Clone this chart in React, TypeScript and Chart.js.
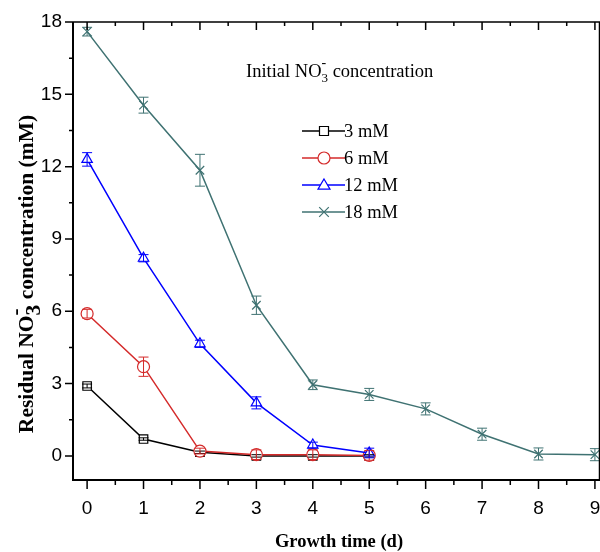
import React, { useEffect, useRef } from "react";
import { Chart, registerables } from "chart.js";

Chart.register(...registerables);

const days = [0, 1, 2, 3, 4, 5, 6, 7, 8, 9];
const xTicks = [0, 1, 2, 3, 4, 5, 6, 7, 8, 9];
const yTicks = [0, 3, 6, 9, 12, 15, 18];

const seriesNames = ["3 mM", "6 mM", "12 mM", "18 mM"];
const seriesColors = ["#000000", "#d42a2a", "#0000ff", "#3f7272"];
const seriesMarkers = ["rect", "circle", "triangle", "crossRot"];

const mM3 = [2.9, 0.7, 0.15, 0.0, 0.0, 0.0];
const mM6 = [5.9, 3.7, 0.2, 0.05, 0.05, 0.02];
const mM12 = [12.3, 8.2, 4.65, 2.2, 0.45, 0.12];
const mM18 = [17.6, 14.55, 11.85, 6.25, 2.95, 2.55, 1.95, 0.9, 0.08, 0.05];

const err3 = [0.08, 0.05, 0.05, 0.05, 0.05, 0.05];
const err6 = [0.18, 0.4, 0.12, 0.2, 0.2, 0.2];
const err12 = [0.28, 0.15, 0.15, 0.25, 0.12, 0.2];
const err18 = [0.18, 0.33, 0.66, 0.38, 0.2, 0.25, 0.25, 0.25, 0.25, 0.25];

const seriesValues = [mM3, mM6, mM12, mM18];
const seriesErrors = [err3, err6, err12, err18];

const SERIF = '"Liberation Serif", "DejaVu Serif", serif';
const SANS = '"Liberation Sans", Arial, sans-serif';

type Seg = { t: string; size: number; dy: number; stackPrev?: boolean };

function drawRich(ctx: CanvasRenderingContext2D, segs: Seg[], x: number, y: number, weight: string, align: "left" | "center") {
  let total = 0;
  const widths: number[] = [];
  segs.forEach((s) => {
    ctx.font = `${weight} ${s.size}px ${SERIF}`;
    widths.push(ctx.measureText(s.t).width);
  });
  let prevW = 0;
  segs.forEach((s, i) => {
    if (s.stackPrev) {
      total += Math.max(0, widths[i] - prevW);
    } else {
      total += widths[i];
      prevW = widths[i];
    }
  });
  let cx = align === "center" ? x - total / 2 : x;
  let lastStart = cx;
  let lastW = 0;
  segs.forEach((s, i) => {
    ctx.font = `${weight} ${s.size}px ${SERIF}`;
    ctx.textBaseline = "alphabetic";
    ctx.textAlign = "left";
    if (s.stackPrev) {
      ctx.fillText(s.t, lastStart, y + s.dy);
      cx = lastStart + Math.max(lastW, widths[i]);
    } else {
      ctx.fillText(s.t, cx, y + s.dy);
      lastStart = cx;
      lastW = widths[i];
      cx += widths[i];
    }
  });
}

function drawMarker(ctx: CanvasRenderingContext2D, style: string, x: number, y: number, color: string) {
  const r = 6;
  ctx.save();
  ctx.strokeStyle = color;
  ctx.fillStyle = "#fff";
  ctx.lineWidth = 1.2;
  ctx.beginPath();
  if (style === "rect") {
    ctx.rect(x - r * 0.75, y - r * 0.75, r * 1.5, r * 1.5);
    ctx.fill();
    ctx.stroke();
  } else if (style === "circle") {
    ctx.arc(x, y, r, 0, Math.PI * 2);
    ctx.fill();
    ctx.stroke();
  } else if (style === "triangle") {
    ctx.moveTo(x, y - r);
    ctx.lineTo(x + r, y + r * 0.7);
    ctx.lineTo(x - r, y + r * 0.7);
    ctx.closePath();
    ctx.fill();
    ctx.stroke();
  } else {
    const d = r * 0.8;
    ctx.moveTo(x - d, y - d);
    ctx.lineTo(x + d, y + d);
    ctx.moveTo(x + d, y - d);
    ctx.lineTo(x - d, y + d);
    ctx.stroke();
  }
  ctx.restore();
}

const framePlugin = {
  id: "frame",
  afterDatasetsDraw(chart: any) {
    const ctx: CanvasRenderingContext2D = chart.ctx;
    const xs = chart.scales.x;
    const ys = chart.scales.y;
    chart.data.datasets.forEach((ds: any, i: number) => {
      const errs = seriesErrors[i];
      ctx.save();
      ctx.strokeStyle = seriesColors[i];
      ctx.lineWidth = 1;
      ds.data.forEach((p: any, j: number) => {
        const e = errs[j];
        if (!e) return;
        const px = xs.getPixelForValue(p.x);
        const y1 = ys.getPixelForValue(p.y + e);
        const y2 = ys.getPixelForValue(p.y - e);
        ctx.beginPath();
        ctx.moveTo(px, y1);
        ctx.lineTo(px, y2);
        ctx.moveTo(px - 5, y1);
        ctx.lineTo(px + 5, y1);
        ctx.moveTo(px - 5, y2);
        ctx.lineTo(px + 5, y2);
        ctx.stroke();
      });
      ctx.restore();
    });
  },
  afterDraw(chart: any) {
    const ctx: CanvasRenderingContext2D = chart.ctx;
    const { left, right, top, bottom } = chart.chartArea;
    const xs = chart.scales.x;
    const ys = chart.scales.y;
    ctx.save();
    ctx.strokeStyle = "#000";
    ctx.lineWidth = 2;
    ctx.beginPath();
    ctx.moveTo(left, top);
    ctx.lineTo(left, bottom);
    ctx.lineTo(right, bottom);
    ctx.stroke();
    ctx.lineWidth = 1.5;
    ctx.beginPath();
    ctx.moveTo(left, top);
    ctx.lineTo(right, top);
    ctx.moveTo(right - 0.5, top);
    ctx.lineTo(right - 0.5, bottom);
    ctx.stroke();
    ctx.lineWidth = 1.5;
    ctx.beginPath();
    for (let v = 0; v <= 9; v += 0.5) {
      const px = xs.getPixelForValue(v);
      const major = Number.isInteger(v);
      ctx.moveTo(px, bottom);
      ctx.lineTo(px, bottom + (major ? 9 : 5));
      ctx.moveTo(px, top);
      ctx.lineTo(px, top + (major ? 8 : 4));
    }
    for (let v = 0; v <= 18; v += 1.5) {
      const py = ys.getPixelForValue(v);
      const major = v % 3 === 0;
      ctx.moveTo(left, py);
      ctx.lineTo(left - (major ? 8 : 4), py);
    }
    ctx.stroke();

    ctx.fillStyle = "#000";
    ctx.save();
    ctx.translate(33, 274);
    ctx.rotate(-Math.PI / 2);
    drawRich(
      ctx,
      [
        { t: "Residual NO", size: 21.5, dy: 0 },
        { t: "3", size: 21.5, dy: 7 },
        { t: "-", size: 21.5, dy: -11, stackPrev: true },
        { t: " concentration (mM)", size: 21.5, dy: 0 },
      ],
      0,
      0,
      "bold",
      "center"
    );
    ctx.restore();
    drawRich(ctx, [{ t: "Growth time (d)", size: 18.5, dy: 0 }], 339, 547, "bold", "center");

    drawRich(
      ctx,
      [
        { t: "Initial NO", size: 18.5, dy: 0 },
        { t: "3", size: 13, dy: 5 },
        { t: "-", size: 14, dy: -10, stackPrev: true },
        { t: " concentration", size: 18.5, dy: 0 },
      ],
      246,
      77,
      "normal",
      "left"
    );

    const legY = [131, 158, 185, 212];
    seriesNames.forEach((name, i) => {
      const y = legY[i];
      ctx.strokeStyle = seriesColors[i];
      ctx.lineWidth = 1.5;
      ctx.beginPath();
      ctx.moveTo(302, y);
      ctx.lineTo(345, y);
      ctx.stroke();
      drawMarker(ctx, seriesMarkers[i], 324, y, seriesColors[i]);
      ctx.fillStyle = "#000";
      ctx.font = `normal 18.5px ${SERIF}`;
      ctx.textBaseline = "middle";
      ctx.textAlign = "left";
      ctx.fillText(name, 344, y + 1);
    });
    ctx.restore();
  },
};

export default function App() {
  const ref = useRef<HTMLCanvasElement>(null);
  useEffect(() => {
    if (!ref.current) return;
    const datasets = seriesValues.map((vals, i) => ({
      label: seriesNames[i],
      data: vals.map((v, j) => ({ x: days[j], y: v })),
      borderColor: seriesColors[i],
      backgroundColor: "#ffffff",
      pointBackgroundColor: "#ffffff",
      pointBorderColor: seriesColors[i],
      pointStyle: seriesMarkers[i] as any,
      pointRadius: 6,
      pointBorderWidth: 1.2,
      borderWidth: 1.5,
      tension: 0,
      clip: false as any,
      order: 4 - i,
    }));
    const chart = new Chart(ref.current, {
      type: "line",
      data: { datasets },
      plugins: [framePlugin],
      options: {
        animation: false,
        responsive: false,
        layout: { autoPadding: false, padding: { top: 22, right: 0, left: 0, bottom: 0 } },
        plugins: { legend: { display: false }, tooltip: { enabled: false } },
        scales: {
          x: {
            type: "linear",
            min: -0.25,
            max: 9.09,
            grid: { display: false, drawTicks: false },
            border: { display: false },
            afterBuildTicks: (s: any) => {
              s.ticks = xTicks.map((v) => ({ value: v }));
            },
            afterFit: (s: any) => {
              s.height = 72;
              s.paddingLeft = 0;
              s.paddingRight = 0;
            },
            ticks: {
              color: "#000",
              padding: 17,
              maxRotation: 0,
              autoSkip: false,
              font: { family: SANS, size: 19 },
            },
          },
          y: {
            type: "linear",
            min: -1,
            max: 18,
            grid: { display: false, drawTicks: false },
            border: { display: false },
            afterBuildTicks: (s: any) => {
              s.ticks = yTicks.map((v) => ({ value: v }));
            },
            afterFit: (s: any) => {
              s.width = 73;
              s.paddingTop = 0;
              s.paddingBottom = 0;
            },
            ticks: {
              color: "#000",
              padding: 11,
              autoSkip: false,
              font: { family: SANS, size: 19 },
            },
          },
        },
      },
    });
    return () => chart.destroy();
  }, []);
  return (
    <div style={{ position: "absolute", left: 0, top: 0, width: 600, height: 552, background: "#fff" }}>
      <canvas ref={ref} width={600} height={552} />
    </div>
  );
}
